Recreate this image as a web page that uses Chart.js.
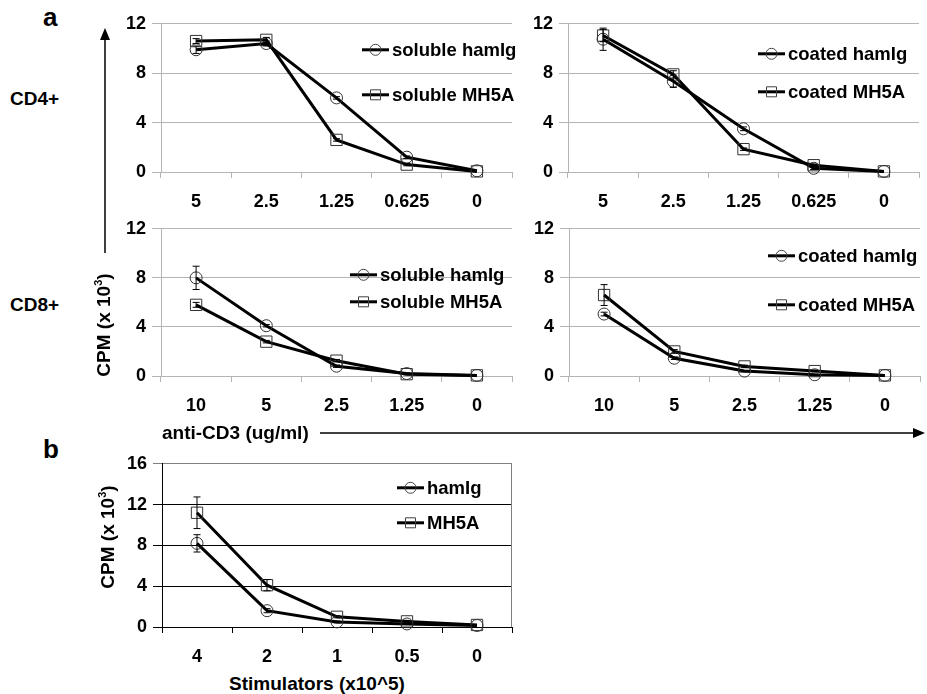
<!DOCTYPE html>
<html>
<head>
<meta charset="utf-8">
<script src="https://cdn.jsdelivr.net/npm/chart.js@4.4.1/dist/chart.umd.min.js"></script>
<style>
  html, body { margin: 0; padding: 0; background: #fff; overflow: hidden; }
  #page { position: relative; width: 927px; height: 694px; font-family: "Liberation Sans", Arial, sans-serif; font-weight: bold; color: #000; }
  canvas { position: absolute; }
  .lbl { position: absolute; white-space: nowrap; font-size: 19px; line-height: 1; }
  .big { font-size: 26px; }
  .rot { transform: translate(-50%, -50%) rotate(-90deg); }
  sup { font-size: 11px; vertical-align: 8px; line-height: 0; }
  svg { position: absolute; left: 0; top: 0; }
</style>
</head>
<body>
<div id="page">
  <canvas id="cd4sol"></canvas>
  <canvas id="cd4coat"></canvas>
  <canvas id="cd8sol"></canvas>
  <canvas id="cd8coat"></canvas>
  <canvas id="stim"></canvas>

  <div class="lbl big" style="left:43px; top:4px;">a</div>
  <div class="lbl big" style="left:43px; top:436px;">b</div>
  <div class="lbl" style="left:10px; top:89px;">CD4+</div>
  <div class="lbl" style="left:10px; top:295px;">CD8+</div>
  <div class="lbl" style="left:162px; top:423px;">anti-CD3 (ug/ml)</div>
  <div class="lbl rot" style="left:103px; top:325px;">CPM (x 10<sup>3</sup>)</div>
  <div class="lbl rot" style="left:107px; top:537px;">CPM (x 10<sup>3</sup>)</div>
  <div class="lbl" style="left:317px; top:674px; transform: translateX(-50%);">Stimulators (x10^5)</div>

  <svg width="927" height="694">
    <line x1="105" y1="253" x2="105" y2="38" stroke="#000" stroke-width="1.5"/>
    <polygon points="105,28 100,40 110,40" fill="#000"/>
    <line x1="320" y1="433" x2="914" y2="433" stroke="#000" stroke-width="1.5"/>
    <polygon points="925,433 913,428 913,438" fill="#000"/>
  </svg>
</div>

<script>
// x categories
const doseCd4 = ["5", "2.5", "1.25", "0.625", "0"];
const doseCd8 = ["10", "5", "2.5", "1.25", "0"];
const stimulators = ["4", "2", "1", "0.5", "0"];

// CD4+ soluble
const cd4SolHam = [9.9, 10.4, 6.0, 1.2, 0.1];
const cd4SolHamErr = [0.3, 0.2, 0.1, 0.1, 0];
const cd4SolMh5a = [10.6, 10.7, 2.6, 0.6, 0.05];
const cd4SolMh5aErr = [0.2, 0.2, 0.1, 0.1, 0];

// CD4+ coated
const cd4CoatHam = [10.75, 7.35, 3.5, 0.3, 0.05];
const cd4CoatHamErr = [0.9, 0.5, 0.15, 0.1, 0];
const cd4CoatMh5a = [11.05, 7.9, 1.85, 0.55, 0.05];
const cd4CoatMh5aErr = [0.5, 0.3, 0.1, 0.1, 0];

// CD8+ soluble
const cd8SolHam = [8.0, 4.1, 0.8, 0.2, 0.05];
const cd8SolHamErr = [0.95, 0.1, 0.1, 0.05, 0];
const cd8SolMh5a = [5.8, 2.8, 1.25, 0.15, 0.05];
const cd8SolMh5aErr = [0.2, 0.1, 0.1, 0.05, 0];

// CD8+ coated
const cd8CoatHam = [5.05, 1.45, 0.4, 0.1, 0.05];
const cd8CoatHamErr = [0.15, 0.1, 0.05, 0.05, 0];
const cd8CoatMh5a = [6.6, 2.0, 0.78, 0.4, 0.05];
const cd8CoatMh5aErr = [0.85, 0.15, 0.1, 0.05, 0];

// b: stimulators
const stimHam = [8.2, 1.6, 0.5, 0.3, 0.15];
const stimHamErr = [0.85, 0.2, 0.1, 0.05, 0];
const stimMh5a = [11.2, 4.1, 1.0, 0.55, 0.2];
const stimMh5aErr = [1.55, 0.55, 0.1, 0.1, 0];

const FONT = "'Liberation Sans', Arial, sans-serif";
const GRID_GREY = "#b4b4b4";

// error bars drawn from the dataset's "errors" array
const errorBars = {
  id: "errorBars",
  afterDatasetsDraw(chart) {
    const ctx = chart.ctx;
    const y = chart.scales.y;
    chart.data.datasets.forEach((ds, i) => {
      if (!ds.errors) return;
      const meta = chart.getDatasetMeta(i);
      ctx.save();
      ctx.strokeStyle = "#000";
      ctx.lineWidth = 1;
      meta.data.forEach((pt, j) => {
        const e = ds.errors[j];
        if (!e) return;
        const top = y.getPixelForValue(ds.data[j] + e);
        const bot = y.getPixelForValue(ds.data[j] - e);
        ctx.beginPath();
        ctx.moveTo(pt.x, top); ctx.lineTo(pt.x, bot);
        ctx.moveTo(pt.x - 3.5, top); ctx.lineTo(pt.x + 3.5, top);
        ctx.moveTo(pt.x - 3.5, bot); ctx.lineTo(pt.x + 3.5, bot);
        ctx.stroke();
      });
      ctx.restore();
    });
  }
};

// legend inside the plot, rows at given offsets from the chart area
const innerLegend = {
  id: "innerLegend",
  afterDraw(chart, args, opts) {
    const ctx = chart.ctx;
    const area = chart.chartArea;
    ctx.save();
    chart.data.datasets.forEach((ds, i) => {
      const x = area.left + opts.x;
      const y = area.top + opts.rows[i];
      ctx.strokeStyle = "#000";
      ctx.lineWidth = 3;
      ctx.beginPath();
      ctx.moveTo(x, y); ctx.lineTo(x + 27, y);
      ctx.stroke();
      ctx.lineWidth = 1;
      ctx.strokeStyle = "#404040";
      ctx.beginPath();
      if (ds.pointStyle === "rect") ctx.rect(x + 8.5, y - 5, 10, 10);
      else ctx.arc(x + 13.5, y, 5.5, 0, Math.PI * 2);
      ctx.stroke();
      ctx.fillStyle = "#000";
      ctx.font = "bold 18.5px " + FONT;
      ctx.textBaseline = "middle";
      ctx.fillText(ds.label, x + 30, y + 1);
    });
    ctx.restore();
  }
};

// panel b has a frame on the right
const rightFrame = {
  id: "rightFrame",
  afterDraw(chart, args, opts) {
    if (!opts.show) return;
    const a = chart.chartArea;
    const ctx = chart.ctx;
    ctx.save();
    ctx.strokeStyle = "#808080";
    ctx.lineWidth = 1;
    ctx.beginPath();
    ctx.moveTo(a.right - 0.5, a.top);
    ctx.lineTo(a.right - 0.5, a.bottom);
    ctx.stroke();
    ctx.restore();
  }
};

function series(label, data, errors, style) {
  return {
    label: label,
    data: data,
    errors: errors,
    borderColor: "#000",
    borderWidth: 3,
    pointStyle: style,
    pointRadius: style === "rect" ? 8 : 6,
    pointBorderColor: "#333",
    pointBorderWidth: 1,
    pointBackgroundColor: "rgba(0,0,0,0)",
    tension: 0,
    clip: false
  };
}

function makePanel(id, area, labels, sets, yMax, legendOpts, isB) {
  const yAxisW = 50, padTop = 14, xAxisH = 44;
  const canvas = document.getElementById(id);
  canvas.width = area.right - area.left + yAxisW;
  canvas.height = area.bottom - area.top + padTop + xAxisH;
  canvas.style.left = (area.left - yAxisW) + "px";
  canvas.style.top = (area.top - padTop) + "px";

  const lineColor = isB ? "#000" : GRID_GREY;
  return new Chart(canvas, {
    type: "line",
    data: { labels: labels, datasets: sets },
    options: {
      responsive: false,
      animation: false,
      devicePixelRatio: 1,
      layout: { padding: { top: padTop, left: 0, right: 0, bottom: 0 } },
      plugins: {
        legend: { display: false },
        tooltip: { enabled: false },
        innerLegend: legendOpts,
        rightFrame: { show: isB }
      },
      scales: {
        x: {
          offset: true,
          afterFit: (s) => { s.height = xAxisH; },
          grid: { offset: true, drawOnChartArea: false, drawTicks: true, tickLength: 6, color: lineColor },
          border: { color: lineColor, width: 1 },
          ticks: { color: "#000", padding: 13, maxRotation: 0, font: { family: FONT, size: 18, weight: "bold" } }
        },
        y: {
          min: 0,
          max: yMax,
          afterFit: (s) => { s.width = yAxisW; },
          grid: {
            color: (c) => (isB && c.tick && c.tick.value === yMax ? "#808080" : lineColor),
            tickLength: 9,
            lineWidth: 1
          },
          border: { color: lineColor, width: 1 },
          ticks: { stepSize: 4, color: "#000", padding: 6, font: { family: FONT, size: 18, weight: "bold" } }
        }
      }
    },
    plugins: [errorBars, innerLegend, rightFrame]
  });
}

makePanel("cd4sol", { left: 161, right: 521, top: 21, bottom: 172 }, doseCd4, [
  series("soluble hamIg", cd4SolHam, cd4SolHamErr, "circle"),
  series("soluble MH5A", cd4SolMh5a, cd4SolMh5aErr, "rect")
], 12, { x: 201, rows: [26, 71] }, false);

makePanel("cd4coat", { left: 568, right: 928, top: 21, bottom: 172 }, doseCd4, [
  series("coated hamIg", cd4CoatHam, cd4CoatHamErr, "circle"),
  series("coated MH5A", cd4CoatMh5a, cd4CoatMh5aErr, "rect")
], 12, { x: 190, rows: [30, 68] }, false);

makePanel("cd8sol", { left: 161, right: 521, top: 226, bottom: 376 }, doseCd8, [
  series("soluble hamIg", cd8SolHam, cd8SolHamErr, "circle"),
  series("soluble MH5A", cd8SolMh5a, cd8SolMh5aErr, "rect")
], 12, { x: 189, rows: [46, 73] }, false);

makePanel("cd8coat", { left: 569, right: 929, top: 226, bottom: 376 }, doseCd8, [
  series("coated hamIg", cd8CoatHam, cd8CoatHamErr, "circle"),
  series("coated MH5A", cd8CoatMh5a, cd8CoatMh5aErr, "rect")
], 12, { x: 199, rows: [27, 76] }, false);

makePanel("stim", { left: 162, right: 521, top: 461, bottom: 627 }, stimulators, [
  series("hamIg", stimHam, stimHamErr, "circle"),
  series("MH5A", stimMh5a, stimMh5aErr, "rect")
], 16, { x: 235, rows: [24, 59] }, true);
</script>
</body>
</html>
